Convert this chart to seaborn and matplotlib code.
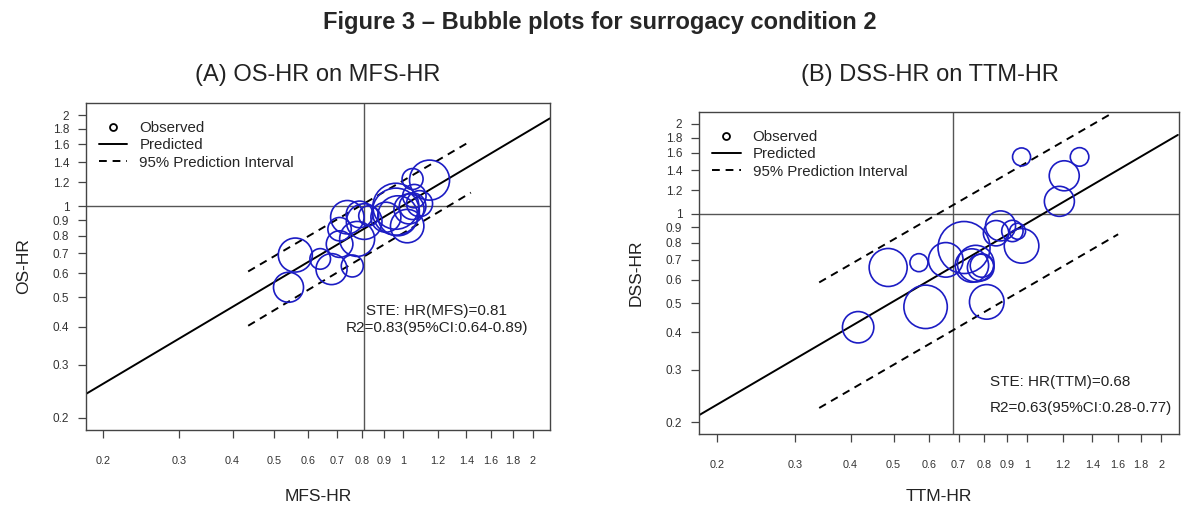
import numpy as np
import pandas as pd
import matplotlib
matplotlib.use("Agg")
import matplotlib.pyplot as plt
from matplotlib.lines import Line2D
import seaborn as sns

# ---- data (hazard ratios) ----
# Panel A: OS-HR vs MFS-HR, bubble weight ~ trial size
mfs_hr = [0.54, 0.56, 0.64, 0.68, 0.76, 0.71, 0.74, 0.78, 0.81, 0.79, 0.83, 0.96,
          0.96, 0.97, 0.91, 1.03, 1.05, 1.06, 1.15, 1.05, 1.02, 1.09, 0.71]
os_hr = [0.54, 0.69, 0.67, 0.62, 0.635, 0.75, 0.92, 0.78, 0.89, 0.94, 0.93, 1.00,
         0.96, 0.93, 0.92, 0.98, 1.00, 1.08, 1.22, 1.23, 0.86, 1.02, 0.84]
weight_a = [225, 289, 106, 240, 121, 177, 279, 306, 317, 177, 100, 529,
            552, 400, 225, 225, 177, 137, 400, 110, 279, 169, 137]

# Panel B: DSS-HR vs TTM-HR
ttm_hr = [0.97, 1.31, 1.21, 1.18, 0.87, 0.85, 0.925, 0.97, 0.95, 0.72,
          0.765, 0.75, 0.785, 0.79, 0.81, 0.655, 0.57, 0.486, 0.59, 0.416]
dss_hr = [1.55, 1.55, 1.34, 1.10, 0.91, 0.86, 0.875, 0.78, 0.873, 0.77,
          0.68, 0.67, 0.66, 0.67, 0.506, 0.70, 0.685, 0.66, 0.487, 0.416]
weight_b = [81, 86, 225, 225, 225, 161, 114, 299, 64, 676,
            335, 279, 177, 137, 299, 299, 81, 361, 471, 246]

# regression line and 95% prediction interval (end points)
pred_a_x, pred_a_y = [0.1824, 2.19], [0.240, 1.95]
pi_a_x = [0.435, 1.435]
pi_a_up, pi_a_lo = [0.609, 1.643], [0.403, 1.109]
ste_a = 0.81

pred_b_x, pred_b_y = [0.1815, 2.18], [0.210, 1.837]
pi_b_x_up, pi_b_up = [0.34, 1.54], [0.588, 2.16]
pi_b_x_lo, pi_b_lo = [0.34, 1.60], [0.223, 0.853]
ste_b = 0.68

ticks = [0.2, 0.3, 0.4, 0.5, 0.6, 0.7, 0.8, 0.9, 1, 1.2, 1.4, 1.6, 1.8, 2]
tick_labels = [f"{t:g}" for t in ticks]

sns.set_theme(style="white")
plt.rcParams['font.family'] = ['Liberation Sans', 'DejaVu Sans']

W, H = 1200, 517
fig = plt.figure(figsize=(12, 5.17), dpi=100)
axA = fig.add_axes([86 / W, 1 - 430 / H, 464 / W, 327 / H])
axB = fig.add_axes([699 / W, 1 - 434 / H, 480 / W, 322 / H])

blue = "#1c1cc4"
lims = (10 ** (np.log10(0.2) - 0.04), 10 ** (np.log10(2) + 0.04))
dash = (0, (4, 3))


def panel(ax, x, y, w, px, py, pix, piu, pilx, pil, ste, xlabel, ylabel, txt, txtpos, txt_ha):
    df = pd.DataFrame({"x": x, "y": y, "w": w})
    wmin, wmax = min(w), max(w)
    k = (2 * 0.72) ** 2  # px radius^2 -> marker area in pt^2
    sns.scatterplot(data=df, x="x", y="y", size="w", sizes=(k * wmin, k * wmax),
                    size_norm=(wmin, wmax), color=blue, facecolors="none",
                    edgecolor=blue, linewidth=1.2, legend=False, ax=ax, zorder=3)
    ax.axhline(1, color="#555555", lw=1.0, zorder=1)
    ax.axvline(ste, color="#555555", lw=1.0, zorder=1)
    ax.plot(px, py, color="black", lw=1.4, zorder=2)
    ax.plot(pix, piu, color="black", lw=1.4, ls=dash, zorder=2)
    ax.plot(pilx, pil, color="black", lw=1.4, ls=dash, zorder=2)

    ax.set_xscale("log")
    ax.set_yscale("log")
    ax.set_xlim(lims)
    ax.set_ylim(lims)
    ax.set_xticks(ticks)
    ax.set_xticklabels(tick_labels)
    ax.set_yticks(ticks)
    ax.set_yticklabels(tick_labels)
    ax.minorticks_off()
    ax.tick_params(axis="x", length=6, width=0.9, color="#444444", pad=13,
                   labelsize=7.8, labelcolor="#333333", bottom=True)
    ax.tick_params(axis="y", length=6, width=0.9, color="#444444", pad=6,
                   labelsize=8.5, labelcolor="#333333", left=True)
    for s in ax.spines.values():
        s.set_color("#444444")
        s.set_linewidth(1.0)

    ax.set_xlabel(xlabel, fontsize=12.5, color="#222222")
    ax.set_ylabel(ylabel, fontsize=12.5, color="#222222")

    handles = [Line2D([], [], marker="o", ls="none", mfc="none", mec="black", ms=5, mew=1.3),
               Line2D([], [], color="black", lw=1.4),
               Line2D([], [], color="black", lw=1.4, ls=dash)]
    ax.legend(handles, ["Observed", "Predicted", "95% Prediction Interval"],
              loc="upper left", bbox_to_anchor=(0.015, 0.963), borderaxespad=0,
              frameon=False, fontsize=10.8, handlelength=1.9, handletextpad=0.8,
              labelspacing=0.22)

    for i, t in enumerate(txt):
        ax.text(txtpos[0], txtpos[1] - i * txtpos[2], t, transform=ax.transAxes,
                ha=txt_ha, va="center", fontsize=11, color="#222222")


panel(axA, mfs_hr, os_hr, weight_a, pred_a_x, pred_a_y, pi_a_x, pi_a_up, pi_a_x, pi_a_lo,
      ste_a, "MFS-HR", "OS-HR",
      ["STE: HR(MFS)=0.81", "R2=0.83(95%CI:0.64-0.89)"], (0.756, 0.364, 0.052), "center")
panel(axB, ttm_hr, dss_hr, weight_b, pred_b_x, pred_b_y, pi_b_x_up, pi_b_up, pi_b_x_lo, pi_b_lo,
      ste_b, "TTM-HR", "DSS-HR",
      ["STE: HR(TTM)=0.68", "R2=0.63(95%CI:0.28-0.77)"], (0.606, 0.1615, 0.0805), "left")

axA.xaxis.set_label_coords(0.5, -0.18)
axB.xaxis.set_label_coords(0.5, -0.172)
axA.yaxis.set_label_coords(-0.118, 0.5)
axB.yaxis.set_label_coords(-0.115, 0.5)

fig.text(0.5, 1 - 22 / H, "Figure 3 \u2013 Bubble plots for surrogacy condition 2",
         ha="center", va="center", fontsize=17, fontweight="bold")
fig.text(318 / W, 1 - 75 / H, "(A) OS-HR on MFS-HR", ha="center", va="center",
         fontsize=17, color="#222222")
fig.text(930 / W, 1 - 75 / H, "(B) DSS-HR on TTM-HR", ha="center", va="center",
         fontsize=17, color="#222222")

fig.savefig("out.png", dpi=100)
